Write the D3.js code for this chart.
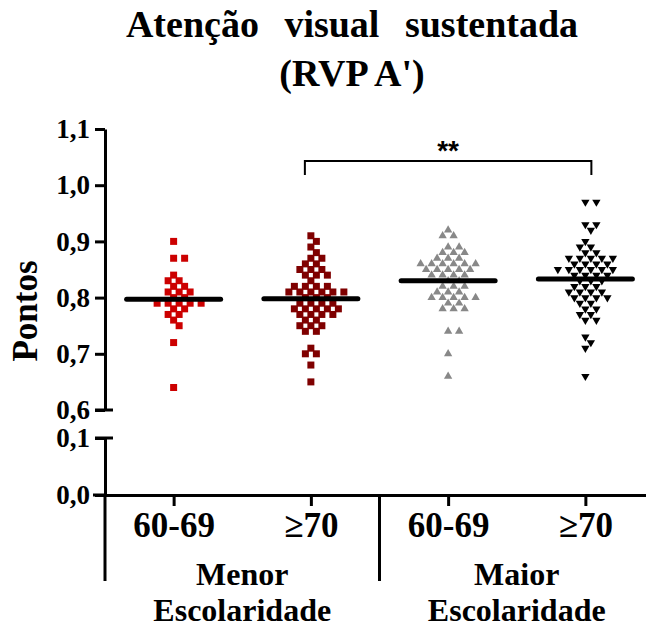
<!DOCTYPE html>
<html>
<head>
<meta charset="utf-8">
<script src="https://cdn.jsdelivr.net/npm/d3@7"></script>
<style>
  body { margin: 0; background: #fff; }
  svg text { font-family: "Liberation Serif", "Times New Roman", serif; font-weight: bold; fill: #000; }
</style>
</head>
<body>
<script>
//
// DATA
//
const groupIds = ['menor-60', 'menor-70', 'maior-60', 'maior-70']
const ageLabels = ['60-69', '\u226570', '60-69', '\u226570']
const schoolLabels = [['Menor', 'Escolaridade'], ['Maior', 'Escolaridade']]
const colors = ['#cc0000', '#7f0000', '#888888', '#000000']
const upperTicks = [0.6, 0.7, 0.8, 0.9, 1.0, 1.1]
const lowerTicks = [0.0, 0.1]
// centre line of each column
const centreLines = [0.797, 0.798, 0.830, 0.833]

const menor6069 = [0.90, 0.87, 0.87, 0.84, 0.83, 0.83, 0.82, 0.82, 0.81, 0.81, 0.81, 0.80, 0.80,
    0.79, 0.79, 0.79, 0.79, 0.79, 0.78, 0.78, 0.77, 0.77, 0.76, 0.75, 0.72, 0.64]
const menor70 = [0.91, 0.90, 0.89, 0.88, 0.87, 0.87, 0.86, 0.86, 0.85, 0.85, 0.85, 0.84, 0.84, 0.84,
    0.83, 0.82, 0.82, 0.82, 0.82, 0.81, 0.81, 0.81, 0.81, 0.81, 0.81, 0.80, 0.80, 0.80,
    0.79, 0.79, 0.79, 0.79, 0.78, 0.78, 0.78, 0.78, 0.78, 0.77, 0.77, 0.77, 0.77,
    0.76, 0.76, 0.75, 0.75, 0.75, 0.74, 0.74, 0.71, 0.70, 0.70, 0.68, 0.65]
const maior6069 = [0.92, 0.91, 0.91, 0.89, 0.89, 0.88, 0.88, 0.88, 0.87, 0.87, 0.87,
    0.86, 0.86, 0.86, 0.86, 0.86, 0.86, 0.85, 0.85, 0.85, 0.85, 0.85, 0.84, 0.84, 0.84, 0.84,
    0.83, 0.83, 0.82, 0.82, 0.82, 0.81, 0.81, 0.81, 0.80, 0.80, 0.80, 0.80, 0.80,
    0.79, 0.79, 0.78, 0.78, 0.78, 0.74, 0.74, 0.70, 0.66]
const maior70 = [0.97, 0.97, 0.93, 0.93, 0.92, 0.90, 0.89, 0.89, 0.88, 0.88,
    0.87, 0.87, 0.87, 0.87, 0.87, 0.86, 0.86, 0.86, 0.86, 0.85, 0.85, 0.85, 0.85, 0.85, 0.85,
    0.84, 0.84, 0.84, 0.84, 0.83, 0.83, 0.83, 0.82, 0.82, 0.82, 0.81, 0.81, 0.81, 0.81,
    0.80, 0.80, 0.80, 0.80, 0.79, 0.79, 0.78, 0.78, 0.77, 0.77, 0.76, 0.76, 0.73, 0.72, 0.71, 0.66]
const series = [menor6069, menor70, maior6069, maior70]

//
// GLOBALS
//
const width = 646
const height = 628
const axisX = 105
const xAxisY = 495
const serif = '"Liberation Serif", "Times New Roman", serif'

const svg = d3.select('body').append('svg').attr('width', width).attr('height', height)

// scales: broken y axis = two linear pieces
const yUpper = d3.scaleLinear().domain([0.6, 1.1]).range([410, 129])
const yLower = d3.scaleLinear().domain([0.0, 0.1]).range([xAxisY, 438])
const x = d3.scalePoint().domain(groupIds).range([axisX, 654]).padding(0.5)

// title
svg.append('text').attr('x', 352).attr('y', 37).attr('text-anchor', 'middle')
    .style('font-size', '38px').style('word-spacing', '16px').text('Atenção visual sustentada')
svg.append('text').attr('x', 352).attr('y', 86).attr('text-anchor', 'middle')
    .style('font-size', '38px').text("(RVP A')")

// y label
svg.append('text').attr('transform', 'translate(37,311) rotate(-90)').attr('text-anchor', 'middle')
    .style('font-size', '35px').text('Pontos')

// y axes
const fmt = (d) => d3.format('.1f')(d).replace('.', ',')
const styleAxis = (g) => {
    g.select('.domain').attr('stroke', '#000').attr('stroke-width', 3)
    g.selectAll('.tick line').attr('stroke', '#000').attr('stroke-width', 3)
    g.selectAll('.tick text').style('font-size', '27px').style('font-family', serif)
        .style('font-weight', 'bold').attr('fill', '#000')
}
svg.append('g').attr('transform', `translate(${axisX},0)`)
    .call(d3.axisLeft(yUpper).tickValues(upperTicks).tickFormat(fmt).tickSize(10).tickSizeOuter(0).tickPadding(5))
    .call(styleAxis)
svg.append('g').attr('transform', `translate(${axisX},0)`)
    .call(d3.axisLeft(yLower).tickValues(lowerTicks).tickFormat(fmt).tickSize(10).tickSizeOuter(0).tickPadding(5))
    .call(styleAxis)
// break caps
svg.append('line').attr('x1', axisX - 10).attr('x2', axisX + 8)
    .attr('y1', yUpper(0.6)).attr('y2', yUpper(0.6)).attr('stroke', '#000').attr('stroke-width', 3)
svg.append('line').attr('x1', axisX - 10).attr('x2', axisX + 8)
    .attr('y1', yLower(0.1)).attr('y2', yLower(0.1)).attr('stroke', '#000').attr('stroke-width', 3)

// x axis
const xAxis = svg.append('g').attr('transform', `translate(0,${xAxisY})`)
    .call(d3.axisBottom(x).tickSize(11).tickSizeOuter(0).tickFormat((d, i) => ageLabels[i]).tickPadding(6))
xAxis.select('.domain').attr('stroke', '#000').attr('stroke-width', 3)
xAxis.selectAll('.tick line').attr('stroke', '#000').attr('stroke-width', 3)
xAxis.selectAll('.tick text').style('font-size', '35px').style('font-family', serif)
    .style('font-weight', 'bold').attr('fill', '#000')
svg.append('line').attr('x1', axisX - 12).attr('x2', axisX).attr('y1', xAxisY).attr('y2', xAxisY)
    .attr('stroke', '#000').attr('stroke-width', 3)

// group separators and two-line group labels
const sepX = [axisX, (x(groupIds[1]) + x(groupIds[2])) / 2]
sepX.forEach((sx) => {
    svg.append('line').attr('x1', sx).attr('x2', sx).attr('y1', xAxisY).attr('y2', 581)
        .attr('stroke', '#000').attr('stroke-width', 3)
})
schoolLabels.forEach((lines, i) => {
    const cx = (x(groupIds[i * 2]) + x(groupIds[i * 2 + 1])) / 2
    lines.forEach((l, j) => {
        svg.append('text').attr('text-anchor', 'middle').style('font-size', '32px')
            .attr('x', cx).attr('y', 585 + j * 36).text(l)
    })
})

// points: simple beeswarm -- each point takes the free slot nearest the column centre
const slot = 5.5 // horizontal grid (half a marker pitch)
const minDist = 7.6 // two markers closer than this collide
const swarm = (vals) => {
    const placed = []
    vals.forEach((v) => {
        const py = yUpper(v)
        for (let k = 0; k < 40; k++) {
            const off = k === 0 ? 0 : (k % 2 ? 1 : -1) * Math.ceil(k / 2) * slot
            const hit = placed.some((p) => Math.hypot(p.off - off, p.py - py) < minDist)
            if (!hit) {
                placed.push({ v, py, off })
                break
            }
        }
    })
    return placed
}
const symbols = [
    d3.symbol().type(d3.symbolSquare).size(49),
    d3.symbol().type(d3.symbolSquare).size(49),
    d3.symbol().type(d3.symbolTriangle).size(30),
    d3.symbol().type(d3.symbolTriangle).size(30),
]
series.forEach((vals, gi) => {
    const pts = swarm(vals)
    svg.append('g').attr('class', `group-${gi}`)
        .selectAll('path').data(pts).join('path')
        .attr('d', symbols[gi])
        .attr('transform', (d) => `translate(${x(groupIds[gi]) + d.off},${d.py})${gi === 3 ? ' rotate(180)' : ''}`)
        .attr('fill', colors[gi])
})

// centre lines
centreLines.forEach((m, gi) => {
    svg.append('line').attr('x1', x(groupIds[gi]) - 47).attr('x2', x(groupIds[gi]) + 47)
        .attr('y1', yUpper(m)).attr('y2', yUpper(m))
        .attr('stroke', '#000').attr('stroke-width', 5).attr('stroke-linecap', 'round')
})

// significance bracket
const bx1 = x(groupIds[1]) - 6
const bx2 = x(groupIds[3]) + 6
svg.append('path').attr('d', `M${bx1},175V161H${bx2}V175`).attr('fill', 'none')
    .attr('stroke', '#000').attr('stroke-width', 2)
svg.append('text').attr('x', (bx1 + bx2) / 2).attr('y', 160).attr('text-anchor', 'middle')
    .style('font-family', '"Liberation Sans", Arial, sans-serif').style('font-size', '28px').text('**')
</script>
</body>
</html>
